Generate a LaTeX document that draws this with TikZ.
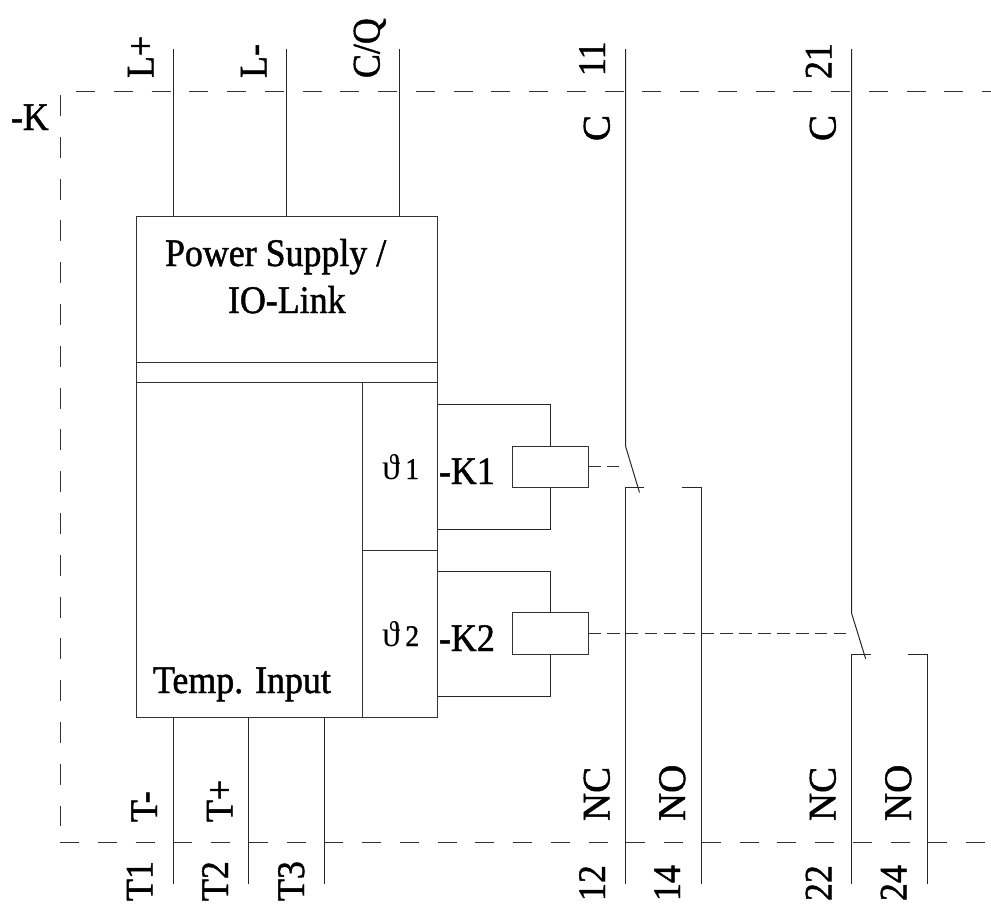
\documentclass[tikz,border=0pt]{standalone}
\usepackage{fontspec}
\setmainfont[FakeStretch=0.92,FakeBold=1.2]{Liberation Serif}
\newfontfamily\thfont{Liberation Serif}
\newfontfamily\widefont[FakeBold=1.2]{Liberation Serif}
\tikzset{
  wire/.style={line width=1pt,color=black!85},
  boxn/.style={draw=black!80,line width=1pt,anchor=north west,inner sep=0pt,outer sep=0pt},
  frameh/.style={line width=1pt,color=black!80,dash pattern=on 19pt off 18.75pt},
  framev/.style={line width=1pt,color=black!80,dash pattern=on 20.9pt off 20.9pt},
  link/.style={line width=1pt,color=black!80,dash pattern=on 12.6pt off 6.3pt},
  lab/.style={inner sep=0pt,outer sep=0pt,anchor=base west,font=\fontsize{39}{39}\selectfont,text=black},
  vlab/.style={lab,rotate=90},
  vwide/.style={vlab,font=\fontsize{39}{39}\widefont},
  thlab/.style={lab,font=\fontsize{30}{30}\selectfont}
}
\begin{document}
\begin{tikzpicture}[x=1pt,y=-1pt]
\useasboundingbox (0,0) rectangle (991,908);
% boxes
\node[boxn,minimum width=301.5pt,minimum height=146pt] (psu) at (136,216) {};
\node[boxn,minimum width=301.5pt,minimum height=20pt] (band) at (136,362) {};
\node[boxn,minimum width=226pt,minimum height=335pt] (temp) at (136,382) {};
\node[boxn,minimum width=75.5pt,minimum height=168pt] (thA) at (362,382) {};
\node[boxn,minimum width=75.5pt,minimum height=167pt] (thB) at (362,550) {};
\node[boxn,minimum width=75.5pt,minimum height=41.5pt] (coilA) at (512.5,446) {};
\node[boxn,minimum width=75.5pt,minimum height=42pt] (coilB) at (512.5,612.7) {};
% coordinates
\coordinate (ftl) at (60.5,95);
\coordinate (fbl) at (60.5,826);
\coordinate (ftr) at (76,91);
\coordinate (ftre) at (991,91);
\coordinate (fbb) at (60,842.5);
\coordinate (fbe) at (985,842.5);
\coordinate (lp) at (173.5,49);
\coordinate (lm) at (286.5,49);
\coordinate (cq) at (399.5,49);
\coordinate (tA) at (173.5,884);
\coordinate (tB) at (248.5,884);
\coordinate (tC) at (324.5,884);
\coordinate (aT) at (437.5,404);
\coordinate (aB) at (437.5,529);
\coordinate (bT) at (437.5,571);
\coordinate (bB) at (437.5,696);
\coordinate (cA) at (625.5,49);
\coordinate (cAk) at (625.5,446);
\coordinate (cAe) at (639.5,492.5);
\coordinate (ncA) at (625.5,884);
\coordinate (ncAk) at (625.5,487.5);
\coordinate (ncAe) at (644.3,487.5);
\coordinate (noAs) at (682.3,487.5);
\coordinate (noAk) at (701,487.5);
\coordinate (noA) at (701,884);
\coordinate (cB) at (851.5,49);
\coordinate (cBk) at (851.5,613);
\coordinate (cBe) at (865.7,659);
\coordinate (ncB) at (851.5,884);
\coordinate (ncBk) at (851.5,654.5);
\coordinate (ncBe) at (870.5,654.5);
\coordinate (noBs) at (908,654.5);
\coordinate (noBk) at (927,654.5);
\coordinate (noB) at (927,884);
\coordinate (lkA) at (619,466.7);
\coordinate (lkB) at (846,633.7);
% frame
\draw[framev] (ftl) -- (fbl);
\draw[frameh] (ftr) -- (ftre);
\draw[frameh] (fbb) -- (fbe);
% terminals
\draw[wire] (lp) -- (lp |- psu.north);
\draw[wire] (lm) -- (lm |- psu.north);
\draw[wire] (cq) -- (cq |- psu.north);
\draw[wire] (tA) -- (tA |- temp.south);
\draw[wire] (tB) -- (tB |- temp.south);
\draw[wire] (tC) -- (tC |- temp.south);
% coil loops
\draw[wire] (coilA.north) |- (aT);
\draw[wire] (coilA.south) |- (aB);
\draw[wire] (coilB.north) |- (bT);
\draw[wire] (coilB.south) |- (bB);
% contacts
\draw[wire] (cA) -- (cAk) -- (cAe);
\draw[wire] (ncA) -- (ncAk) -- (ncAe);
\draw[wire] (noAs) -- (noAk) -- (noA);
\draw[wire] (cB) -- (cBk) -- (cBe);
\draw[wire] (ncB) -- (ncBk) -- (ncBe);
\draw[wire] (noBs) -- (noBk) -- (noB);
% mechanical links
\draw[link] (coilA.east |- lkA) -- (lkA);
\draw[link] (coilB.east |- lkB) -- (lkB);
% labels
\node[lab] (tk) at (11,130) {-K};
\node[lab] (tpsu) at (165,266) {Power Supply /};
\node[lab] (tio) at (228,313) {IO-Link};
\node[lab] (ttemp) at (153,693) {Temp. Input};
\node[lab] (tka) at (439,484) {-K1};
\node[lab] (tkb) at (439,651) {-K2};
\node[thlab] (tha) at (382,479) {{\fontsize{36}{36}\thfont ϑ}\kern5.5pt 1};
\node[thlab] (thb) at (382,646) {{\fontsize{36}{36}\thfont ϑ}\kern5.5pt 2};
\node[vlab] (vlp) at (153.5,78) {L+};
\node[vlab] (vlm) at (266.5,78) {L-};
\node[vlab] (vcq) at (379.5,78) {C/Q};
\node[vwide] (vca) at (609.5,141) {C};
\node[vlab] (v11) at (605,76) {11};
\node[vwide] (vcb) at (835.5,141) {C};
\node[vlab] (v21) at (831.5,79) {21};
\node[vlab] (vtm) at (157,822) {T-};
\node[vlab] (vtp) at (232.5,822) {T+};
\node[vlab] (vta) at (152.5,901) {T1};
\node[vlab] (vtb) at (228,901) {T2};
\node[vlab] (vtc) at (304,901) {T3};
\node[vwide] (vnca) at (609.5,821) {NC};
\node[vwide] (vnoa) at (685,821) {NO};
\node[vwide] (vncb) at (835.5,821) {NC};
\node[vwide] (vnob) at (911,821) {NO};
\node[vlab] (v12) at (605,901) {12};
\node[vlab] (v14) at (680,901) {14};
\node[vlab] (v22) at (831.5,901) {22};
\node[vlab] (v24) at (906.5,901) {24};
\end{tikzpicture}
\end{document}
